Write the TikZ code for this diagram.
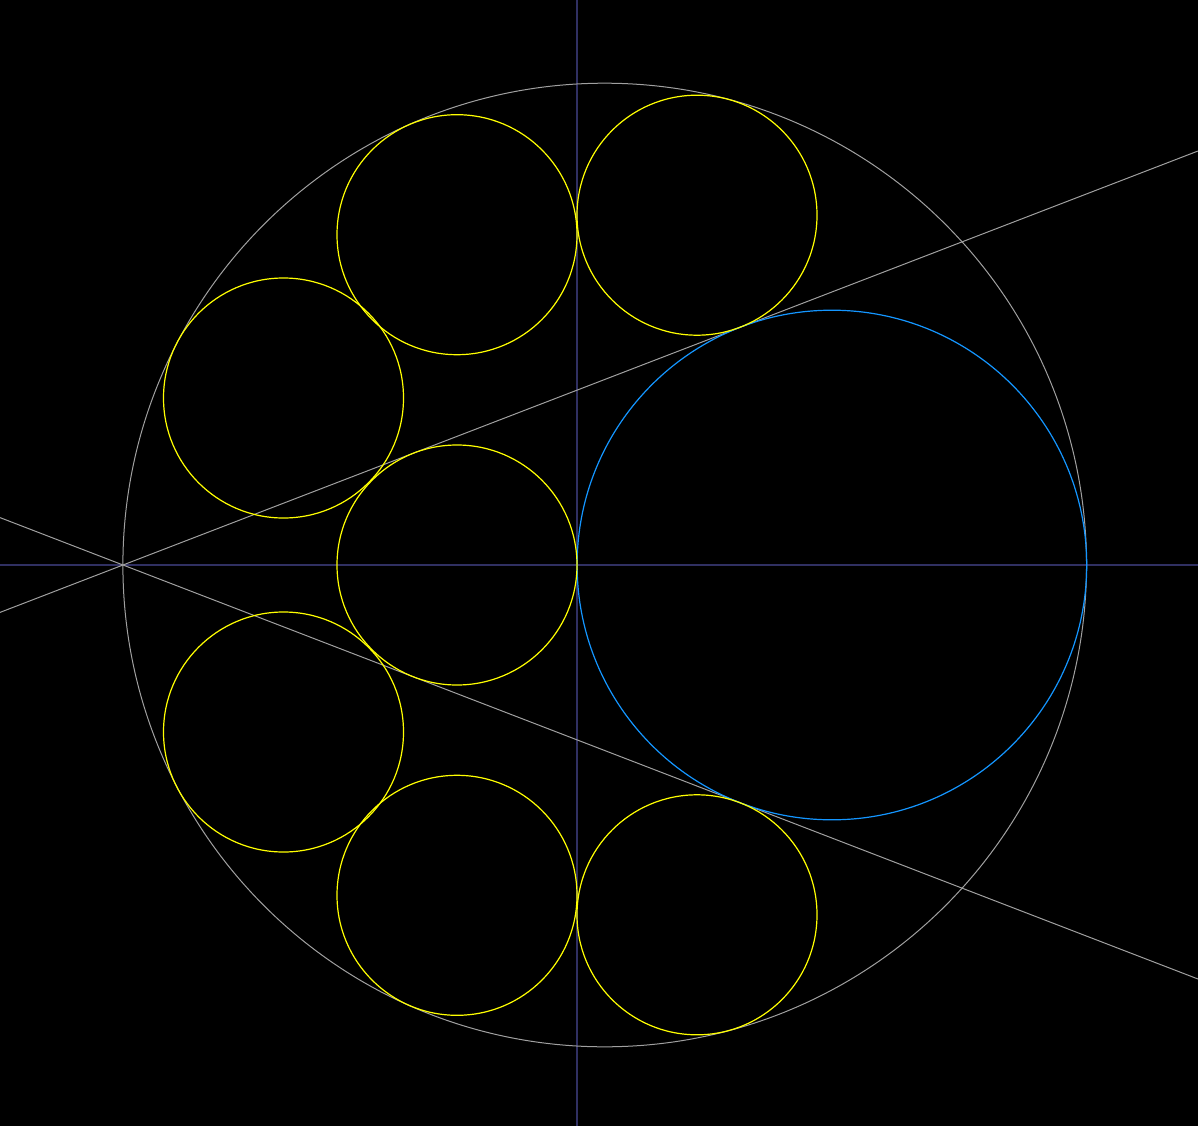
\documentclass[tikz,border=0pt]{standalone}
\usetikzlibrary{calc}
\definecolor{axdarkblue}{RGB}{48,48,98}
\definecolor{greycol}{RGB}{160,160,160}
\definecolor{bluecol}{RGB}{20,150,255}
\definecolor{yelcol}{RGB}{255,255,0}
\tikzset{
  axisline/.style={draw=axdarkblue, line width=1.3pt},
  greyline/.style={draw=greycol, line width=1pt},
  yelcirc/.style={draw=yelcol, line width=1.2pt},
  bluecirc/.style={draw=bluecol, line width=1.2pt}
}
\begin{document}
\begin{tikzpicture}[x=1pt,y=-1pt]
  \fill[black] (0,0) rectangle (1198,1126);
  \useasboundingbox (0,0) rectangle (1198,1126);
  \clip (0,0) rectangle (1198,1126);
  % axes
  \draw[axisline] (577,0) -- (577,1126);
  \draw[axisline] (0,565) -- (1198,565);
  % key points
  \coordinate (O) at (604.7,565);
  \coordinate (P) at (123,565);
  \coordinate (B) at (831.9,565);
  \coordinate (ULeft) at (0,612.4);
  \coordinate (URight) at (1198,151);
  \coordinate (LLeft) at (0,517.6);
  \coordinate (LRight) at (1198,979);
  % outer circle
  \draw[greyline] (O) circle[radius=481.8];
  % tangent lines
  \draw[greyline] (ULeft) -- (P) -- (URight);
  \draw[greyline] (LLeft) -- (P) -- (LRight);
  % blue circle
  \draw[bluecirc] (B) circle[radius=254.8];
  % yellow circles
  \foreach \cx/\cy in {457/565, 457/234.7, 697/215.2, 283.5/398, 283.5/732, 457/895.3, 697/914.8}
    \draw[yelcirc] (\cx,\cy) circle[radius=120];
\end{tikzpicture}
\end{document}
